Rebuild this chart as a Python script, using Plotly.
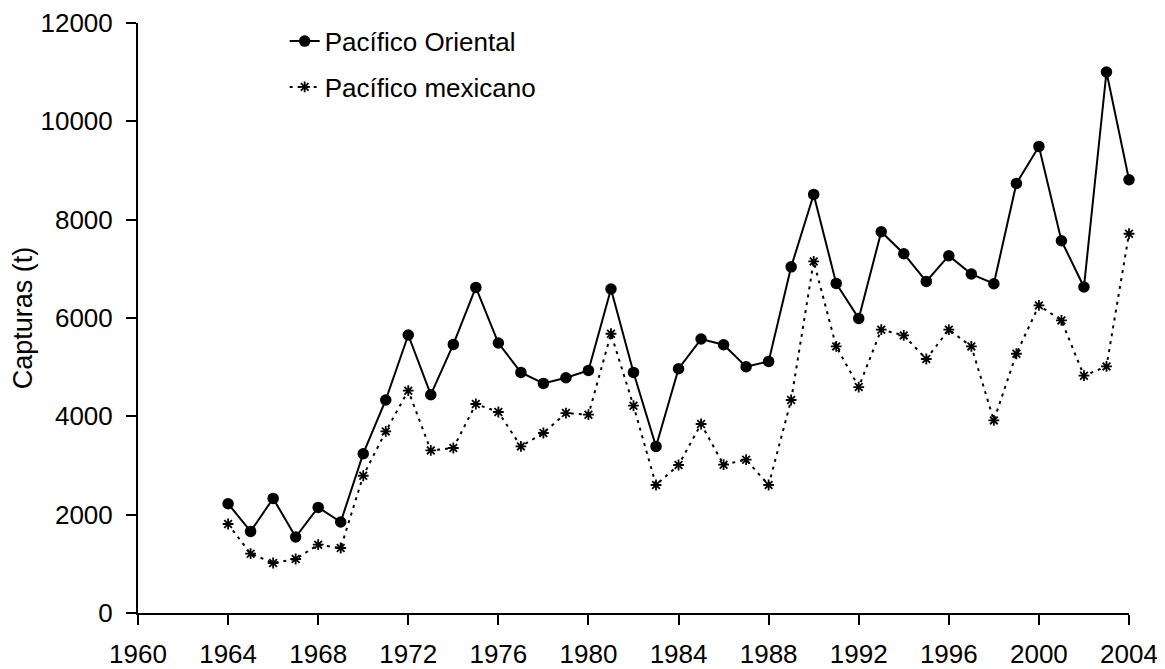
import plotly.graph_objects as go

years = list(range(1964, 2005))

pacifico_oriental = [2223, 1660, 2331, 1546, 2148, 1851, 3240, 4332, 5654, 4440,
                     5463, 6622, 5491, 4893, 4670, 4785, 4934, 6589, 4893, 3388,
                     4968, 5572, 5457, 5009, 5117, 7040, 8513, 6703, 5992, 7755,
                     7307, 6744, 7267, 6894, 6697, 8737, 9490, 7572, 6630, 11003,
                     8812]

pacifico_mexicano = [1810, 1206, 1017, 1098, 1389, 1322, 2792, 3693, 4521, 3307,
                     3356, 4251, 4088, 3388, 3661, 4067, 4033, 5680, 4216, 2603,
                     3010, 3844, 3016, 3118, 2603, 4332, 7151, 5422, 4596, 5762,
                     5646, 5166, 5762, 5422, 3917, 5273, 6256, 5951, 4826, 5015,
                     7714]

x_ticks = list(range(1960, 2005, 4))
y_ticks = list(range(0, 12001, 2000))

FONT = "Liberation Sans, Arial, sans-serif"

fig = go.Figure()
fig.add_trace(go.Scatter(
    x=years, y=pacifico_oriental, name="Pacífico Oriental", legendgroup="a",
    mode="lines+markers",
    line=dict(color="black", width=2),
    marker=dict(symbol="circle", size=11.5, color="black"),
    cliponaxis=False,
))
fig.add_trace(go.Scatter(
    x=years, y=pacifico_mexicano, name="Pacífico mexicano", legendgroup="b",
    mode="lines+markers",
    line=dict(color="black", width=2, dash="3px,5px"),
    marker=dict(symbol="asterisk-open", size=9, color="black",
                line=dict(color="black", width=1.8)),
    cliponaxis=False,
))

fig.update_layout(
    width=1165, height=669,
    margin=dict(l=130, r=44, t=15, b=64, autoexpand=False),
    paper_bgcolor="white", plot_bgcolor="white",
    font=dict(family=FONT, size=26, color="black"),
    showlegend=True,
    legend=dict(x=0.148, y=1.009, xanchor="left", yanchor="top",
                bgcolor="rgba(0,0,0,0)", borderwidth=0,
                font=dict(size=26), tracegroupgap=9),
    xaxis=dict(range=[1960, 2004], tickmode="array", tickvals=x_ticks,
               ticktext=[str(v) for v in x_ticks], automargin=False,
               showgrid=False, zeroline=False,
               showline=True, linecolor="black", linewidth=2,
               ticks="outside", ticklen=10, tickwidth=2, tickcolor="black",
               ticklabelstandoff=7),
    yaxis=dict(range=[0, 12000], tickmode="array", tickvals=y_ticks,
               ticktext=[str(v) for v in y_ticks], automargin=False,
               showgrid=False, zeroline=False,
               showline=True, linecolor="black", linewidth=2,
               ticks="outside", ticklen=10, tickwidth=2, tickcolor="black",
               ticklabelstandoff=8,
               title=dict(text="Capturas (t)", font=dict(size=27), standoff=3)),
)

fig.write_html("out.html")
